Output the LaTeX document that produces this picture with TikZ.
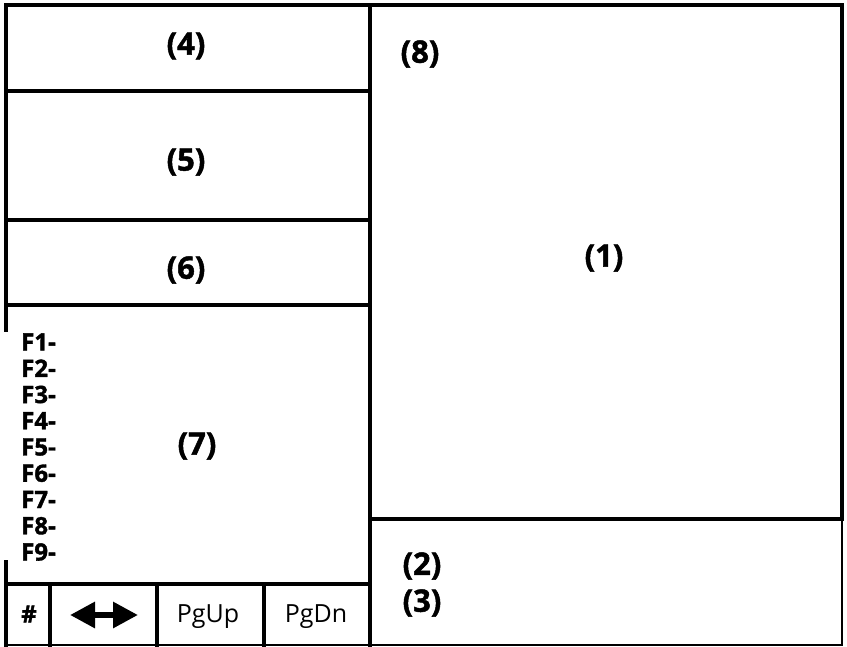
\documentclass[tikz,border=0pt]{standalone}
\usepackage{fontspec}
\setmainfont{Open Sans}[BoldFeatures={FakeBold=1.5}]
\usetikzlibrary{arrows.meta}
\tikzset{
  thick line/.style={line width=4.5pt, line cap=rect},
  thin line/.style={line width=2.5pt, line cap=rect},
  biglabel/.style={font=\bfseries\fontsize{31}{34}\selectfont, inner sep=0pt},
  fkey/.style={font=\bfseries\fontsize{24}{26}\selectfont, inner sep=0pt, anchor=west},
  btnlabel/.style={font=\fontsize{25}{28}\selectfont, inner sep=0pt, anchor=base},
  bigarrow/.style={line width=6pt, {Triangle[length=25pt,width=25pt]}-{Triangle[length=25pt,width=25pt]}}
}
\begin{document}
\begin{tikzpicture}[x=1pt,y=-1pt]
\useasboundingbox (0,0) rectangle (847,647);
% outer frame
\draw[thick line] (6,330) -- (6,5) -- (842,5) -- (842,519);
\draw[thick line] (6,562) -- (6,645);
\draw[thin line] (842,519) -- (842,645) -- (6,645);
% middle divider
\draw[thick line] (370,5) -- (370,645);
% left panel rows
\draw[thick line] (6,91) -- (370,91);
\draw[thick line] (6,220) -- (370,220);
\draw[thick line] (6,305) -- (370,305);
\draw[thick line] (6,584) -- (370,584);
% buttons
\draw[thick line] (50,584) -- (50,645);
\draw[thick line] (157,584) -- (157,645);
\draw[thick line] (264,584) -- (264,645);
% right panel divider
\draw[thick line] (370,519) -- (842,519);
% labels
\node[biglabel] (l4) at (186,46) {(4)};
\node[biglabel] (l5) at (186,162) {(5)};
\node[biglabel] (l6) at (186,270) {(6)};
\node[biglabel] (l7) at (197,446) {(7)};
\node[biglabel] (l8) at (420,54) {(8)};
\node[biglabel] (l1) at (604,258) {(1)};
\node[biglabel] (l2) at (422,566) {(2)};
\node[biglabel] (l3) at (422,603) {(3)};
\foreach \i in {1,...,9} {
  \node[fkey] (f\i) at (21,{342+26.25*(\i-1)}) {F\i-};
}
\node[font=\bfseries\fontsize{24}{26}\selectfont, inner sep=0pt] (hash) at (29,614) {\#};
\node[btnlabel] (pgup) at (208,622) {PgUp};
\node[btnlabel] (pgdn) at (316,622) {PgDn};
\coordinate (arL) at (70,615);
\coordinate (arR) at (138,615);
\draw[bigarrow] (arL) -- (arR);
\end{tikzpicture}
\end{document}
